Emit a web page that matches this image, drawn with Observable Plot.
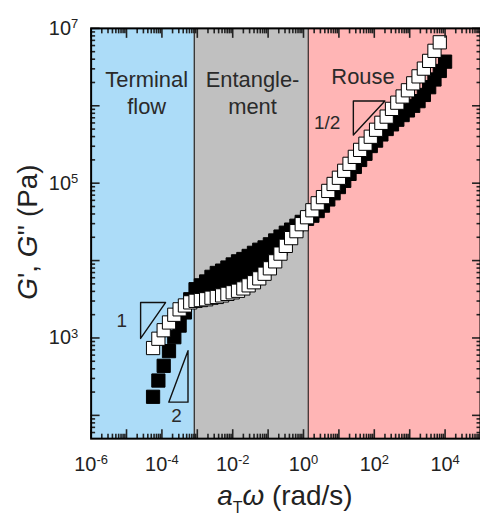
<!DOCTYPE html>
<html>
<head>
<meta charset="utf-8">
<script src="https://cdn.jsdelivr.net/npm/d3@7"></script>
<script src="https://cdn.jsdelivr.net/npm/@observablehq/plot@0.6"></script>
<style>
html,body{margin:0;padding:0;background:#fff;overflow:hidden}
</style>
</head>
<body>
<div id="chart"></div>
<script>
// ---- data (log10 values) ----
const logOmega = [-4.25,-4.10,-3.95,-3.80,-3.65,-3.50,-3.35,-3.20,-3.05,-2.90,-2.75,-2.60,-2.45,-2.30,-2.15,-2.00,-1.85,-1.70,-1.55,-1.40,-1.25,-1.10,-0.95,-0.80,-0.65,-0.50,-0.35,-0.20,-0.05,0.10,0.25,0.40,0.55,0.70,0.85,1.00,1.15,1.30,1.45,1.60,1.75,1.90,2.05,2.20,2.35,2.50,2.65,2.80,2.95,3.10,3.25,3.40,3.55,3.70,3.85,4.00];
// G' (filled squares)
const logGp = [2.24,2.45,2.64,2.83,3.01,3.16,3.33,3.50,3.63,3.68,3.73,3.79,3.84,3.87,3.91,3.95,3.99,4.02,4.06,4.10,4.14,4.17,4.21,4.26,4.31,4.36,4.40,4.45,4.50,4.54,4.58,4.64,4.71,4.79,4.87,4.95,5.03,5.12,5.21,5.30,5.38,5.48,5.55,5.63,5.70,5.76,5.82,5.88,5.94,6.00,6.06,6.14,6.24,6.34,6.45,6.57];
// overlapping G' segment in the plateau
const logOmegaOverlap = [-2.75,-2.60,-2.45,-2.30,-2.15,-2.00,-1.85,-1.70,-1.55,-1.40,-1.25,-1.10,-0.95,-0.80,-0.65];
const logGpOverlap = [3.57,3.63,3.68,3.71,3.75,3.79,3.83,3.86,3.90,3.94,3.98,4.01,4.05,4.10,4.15];
// G'' (open squares)
const logGpp = [2.87,2.99,3.10,3.20,3.30,3.37,3.42,3.46,3.48,3.49,3.50,3.52,3.53,3.55,3.57,3.59,3.61,3.64,3.68,3.72,3.77,3.83,3.90,3.99,4.09,4.19,4.29,4.38,4.47,4.56,4.65,4.74,4.82,4.90,4.99,5.07,5.16,5.25,5.34,5.43,5.51,5.60,5.69,5.78,5.86,5.96,6.04,6.12,6.20,6.29,6.38,6.48,6.58,6.71,6.82];

// regions
const regionNames = ["Terminal\nflow", "Entangle-\nment", "Rouse"];
const regionStart = [1e-6, 8.2e-4, 1.36];
const regionEnd = [8.2e-4, 1.36, 1e5];
const regionColors = ["#acdcf8", "#c0c0c0", "#ffb5b5"];
const regionLabelLogX = [-4.43, -1.44, 1.68];
const regionLabelLogY = [6.49, 6.49, 6.53];
const regionBoundaries = [8.2e-4, 1.36];

// slope triangles (log10 coordinates of vertices) and labels
const triangle1LogX = [-4.602, -3.898, -4.602, -4.602];
const triangle1LogY = [3.458, 3.458, 2.994, 3.458];
const triangle2LogX = [-3.263, -3.263, -3.806, -3.263];
const triangle2LogY = [2.835, 2.171, 2.171, 2.835];
const triangleHalfLogX = [1.408, 2.299, 1.408, 1.408];
const triangleHalfLogY = [6.061, 6.061, 5.623, 6.061];
const slopeLabels = ["1", "2", "1/2"];
const slopeLabelLogX = [-5.136, -3.589, 0.668];
const slopeLabelLogY = [3.221, 1.988, 5.784];

// axes
const xMajorExp = [-6,-5,-4,-3,-2,-1,0,1,2,3,4,5];
const xLabelExp = [-6,-4,-2,0,2,4];
const yMajorExp = [2,3,4,5,6,7];
const yLabelExp = [3,5,7];
const xDomain = [1e-6, 1e5];
const yDomain = [50, 1e7];

// ---- build ----
const p10 = e => Math.pow(10, e);
const gp = logOmega.map((w, i) => ({w: p10(w), g: p10(logGp[i])}));
const gpOv = logOmegaOverlap.map((w, i) => ({w: p10(w), g: p10(logGpOverlap[i])}));
const gpp = logGpp.map((g, i) => ({w: p10(logOmega[i]), g: p10(g)}));
const regions = regionNames.map((n, i) => ({x1: regionStart[i], x2: regionEnd[i], color: regionColors[i]}));
const regionLabels = regionNames.map((n, i) => ({text: n, x: p10(regionLabelLogX[i]), y: p10(regionLabelLogY[i])}));
const tri = (lx, ly, id) => lx.map((v, i) => ({x: p10(v), y: p10(ly[i]), id}));
const triangles = [
  ...tri(triangle1LogX, triangle1LogY, "a"),
  ...tri(triangle2LogX, triangle2LogY, "b"),
  ...tri(triangleHalfLogX, triangleHalfLogY, "c")
];
const slopeText = slopeLabels.map((t, i) => ({text: t, x: p10(slopeLabelLogX[i]), y: p10(slopeLabelLogY[i])}));

const xMajor = xMajorExp.map(p10);
const yMajor = yMajorExp.map(p10);
const xMinor = [], yMinor = [];
for (const e of xMajorExp) for (let m = 2; m <= 9; m++) { const v = m * p10(e); if (v < xDomain[1]) xMinor.push(v); }
for (const e of [1, ...yMajorExp]) for (let m = 2; m <= 9; m++) { const v = m * p10(e); if (v > yDomain[0] && v < yDomain[1]) yMinor.push(v); }
const expFmt = d => String(Math.round(Math.log10(d)));
const none = () => null;
const tickStyle = {strokeWidth: 1.6, label: null, tickFormat: none};

const svg = Plot.plot({
  width: 482,
  height: 518,
  marginLeft: 91,
  marginRight: 0,
  marginTop: 28,
  marginBottom: 78,
  style: {fontFamily: "'Liberation Sans', Arial, sans-serif", background: "#fff", color: "#222"},
  x: {type: "log", domain: xDomain},
  y: {type: "log", domain: yDomain},
  marks: [
    Plot.rect(regions, {x1: "x1", x2: "x2", fill: "color"}),
    Plot.ruleX(regionBoundaries, {stroke: "#222", strokeWidth: 1.2}),
    Plot.dot(gpOv, {x: "w", y: "g", symbol: "square", r: 7.5, fill: "#000", stroke: "#000", strokeWidth: 1}),
    Plot.dot(gp, {x: "w", y: "g", symbol: "square", r: 7.5, fill: "#000", stroke: "#000", strokeWidth: 1}),
    Plot.dot(gpp, {x: "w", y: "g", symbol: "square", r: 7.5, fill: "#fff", stroke: "#000", strokeWidth: 1}),
    Plot.line(triangles, {x: "x", y: "y", z: "id", stroke: "#111", strokeWidth: 1.4, curve: "linear"}),
    Plot.text(regionLabels, {x: "x", y: "y", text: "text", fontSize: 22, lineAnchor: "top", lineHeight: 1.23, fill: "#2a2a2a", textAnchor: "middle"}),
    Plot.text(slopeText, {x: "x", y: "y", text: "text", fontSize: 19, fill: "#2a2a2a", textAnchor: "middle", lineAnchor: "middle"}),
    // inward ticks on all four sides
    Plot.axisX(xMajor, {anchor: "bottom", tickSize: -9, ...tickStyle}),
    Plot.axisX(xMinor, {anchor: "bottom", tickSize: -4.5, ...tickStyle}),
    Plot.axisX(xMajor, {anchor: "top", tickSize: -9, ...tickStyle}),
    Plot.axisX(xMinor, {anchor: "top", tickSize: -4.5, ...tickStyle}),
    Plot.axisY(yMajor, {anchor: "left", tickSize: -9, ...tickStyle}),
    Plot.axisY(yMinor, {anchor: "left", tickSize: -4.5, ...tickStyle}),
    Plot.axisY(yMajor, {anchor: "right", tickSize: -9, ...tickStyle}),
    Plot.axisY(yMinor, {anchor: "right", tickSize: -4.5, ...tickStyle}),
    // labels
    Plot.axisX(xLabelExp.map(p10), {anchor: "bottom", tickSize: 0, tickPadding: 18, fontSize: 20, tickFormat: expFmt, label: null}),
    Plot.axisY(yLabelExp.map(p10), {anchor: "left", tickSize: 0, tickPadding: 13, fontSize: 20, tickFormat: expFmt, label: null}),
    Plot.frame({stroke: "#000", strokeWidth: 2})
  ]
});

// superscript tick labels: 10^n
d3.select(svg).selectAll('g[aria-label="x-axis tick label"] text, g[aria-label="y-axis tick label"] text').each(function () {
  const t = d3.select(this);
  const e = t.text();
  if (!e) return;
  t.text("");
  t.append("tspan").text("10");
  t.append("tspan").attr("dy", "-0.5em").attr("font-size", "13px").text(e);
});

// axis titles
const s = d3.select(svg);
const yt = s.append("text")
  .attr("transform", "translate(37,233) rotate(-90)")
  .attr("text-anchor", "middle")
  .attr("font-size", 28)
  .attr("fill", "#222");
yt.append("tspan").attr("font-style", "italic").text("G");
yt.append("tspan").text("', ");
yt.append("tspan").attr("font-style", "italic").text("G");
yt.append("tspan").text("'' (Pa)");

const xt = s.append("text")
  .attr("x", 286)
  .attr("y", 507)
  .attr("text-anchor", "middle")
  .attr("font-size", 28)
  .attr("fill", "#222");
xt.append("tspan").attr("font-style", "italic").text("a");
xt.append("tspan").attr("font-size", 16).attr("dy", 8).text("T");
xt.append("tspan").attr("font-style", "italic").attr("dy", -8).text("ω");
xt.append("tspan").text(" (rad/s)");

document.getElementById("chart").appendChild(svg);
</script>
</body>
</html>
